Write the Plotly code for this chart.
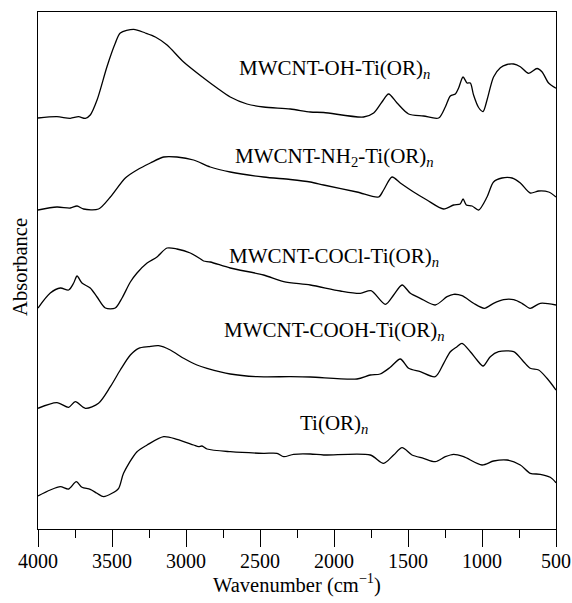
import plotly.graph_objects as go

# ---- data (wavenumber in cm^-1, absorbance in arbitrary stacked units) ----
oh_wn = [4000, 3872, 3782, 3726, 3680, 3647, 3601, 3534, 3478, 3444, 3354, 3275, 3207, 3128,
         3016, 2881, 2790, 2701, 2588, 2476, 2295, 2160, 2070, 1800, 1732, 1676, 1631, 1574,
         1496, 1395, 1293, 1248, 1214, 1180, 1158, 1128, 1101, 1079, 1057, 1023, 993, 966,
         922, 876, 831, 786, 741, 685, 628, 595, 550, 500]
oh_abs = [4.11, 4.123, 4.107, 4.123, 4.107, 4.14, 4.29, 4.623, 4.857, 4.96, 4.997, 4.96, 4.92, 4.84,
          4.67, 4.51, 4.41, 4.32, 4.25, 4.22, 4.20, 4.17, 4.165, 4.12, 4.16, 4.27, 4.35, 4.26,
          4.15, 4.13, 4.11, 4.22, 4.33, 4.35, 4.41, 4.52, 4.46, 4.46, 4.34, 4.215, 4.175, 4.29,
          4.52, 4.613, 4.645, 4.65, 4.623, 4.557, 4.605, 4.573, 4.46, 4.407]

nh2_wn = [4000, 3872, 3782, 3736, 3692, 3591, 3511, 3410, 3331, 3241, 3151, 3061, 2949, 2836,
          2701, 2476, 2295, 2160, 2070, 1845, 1699, 1665, 1608, 1552, 1462, 1372, 1259, 1192,
          1147, 1128, 1106, 1067, 1023, 966, 922, 865, 797, 741, 674, 617, 550, 500]
nh2_abs = [3.19, 3.22, 3.21, 3.23, 3.20, 3.20, 3.32, 3.51, 3.59, 3.66, 3.72, 3.72, 3.69, 3.62,
           3.57, 3.52, 3.495, 3.47, 3.44, 3.37, 3.32, 3.39, 3.52, 3.46, 3.37, 3.29, 3.20, 3.24,
           3.25, 3.30, 3.24, 3.23, 3.19, 3.32, 3.47, 3.51, 3.51, 3.46, 3.36, 3.38, 3.37, 3.32]

cocl_wn = [4000, 3917, 3849, 3793, 3759, 3736, 3703, 3647, 3601, 3545, 3478, 3432, 3376, 3331,
           3263, 3196, 3128, 3061, 2971, 2902, 2881, 2836, 2701, 2476, 2340, 2160, 1957, 1822,
           1750, 1653, 1597, 1540, 1484, 1417, 1316, 1236, 1192, 1135, 1057, 984, 922, 854,
           786, 730, 675, 606, 500]
cocl_abs = [2.21, 2.36, 2.41, 2.39, 2.46, 2.53, 2.46, 2.41, 2.32, 2.21, 2.21, 2.31, 2.47, 2.56,
            2.66, 2.72, 2.81, 2.80, 2.76, 2.70, 2.68, 2.67, 2.61, 2.54, 2.473, 2.44, 2.38, 2.357,
            2.383, 2.247, 2.34, 2.44, 2.357, 2.307, 2.24, 2.323, 2.347, 2.333, 2.257, 2.207, 2.257, 2.293,
            2.293, 2.257, 2.207, 2.257, 2.24]

cooh_wn = [4000, 3872, 3793, 3748, 3680, 3591, 3511, 3444, 3376, 3320, 3253, 3185, 3106, 3016,
           2926, 2858, 2701, 2520, 2295, 2160, 1845, 1755, 1688, 1620, 1552, 1496, 1417, 1316,
           1259, 1214, 1169, 1135, 1079, 1034, 993, 944, 888, 786, 719, 674, 617, 561, 500]
cooh_abs = [1.207, 1.263, 1.217, 1.273, 1.207, 1.257, 1.423, 1.59, 1.74, 1.807, 1.823, 1.833, 1.79, 1.707,
            1.64, 1.607, 1.55, 1.523, 1.523, 1.52, 1.50, 1.54, 1.55, 1.617, 1.70, 1.607, 1.573, 1.523,
            1.657, 1.773, 1.823, 1.857, 1.773, 1.69, 1.63, 1.723, 1.773, 1.773, 1.673, 1.607, 1.59, 1.507, 1.39]

ti_wn = [4000, 3917, 3849, 3793, 3741, 3703, 3647, 3601, 3557, 3500, 3455, 3422, 3331, 3263,
         3151, 3061, 2949, 2915, 2892, 2858, 2701, 2476, 2385, 2340, 2273, 2160, 2070, 1755,
         1665, 1597, 1540, 1473, 1395, 1316, 1248, 1192, 1124, 1000, 922, 831, 741, 674,
         606, 539, 500]
ti_abs = [0.33, 0.39, 0.423, 0.40, 0.473, 0.417, 0.397, 0.357, 0.323, 0.357, 0.407, 0.557, 0.773, 0.84,
          0.923, 0.897, 0.84, 0.823, 0.83, 0.80, 0.773, 0.757, 0.757, 0.723, 0.747, 0.75, 0.74, 0.74,
          0.657, 0.74, 0.813, 0.74, 0.707, 0.673, 0.723, 0.747, 0.723, 0.64, 0.68, 0.69, 0.64, 0.557,
          0.547, 0.517, 0.463]

labels = ["MWCNT-OH-Ti(OR)<sub><i>n</i></sub>",
          "MWCNT-NH<sub>2</sub>-Ti(OR)<sub><i>n</i></sub>",
          "MWCNT-COCl-Ti(OR)<sub><i>n</i></sub>",
          "MWCNT-COOH-Ti(OR)<sub><i>n</i></sub>",
          "Ti(OR)<sub><i>n</i></sub>"]
label_wn = [2000, 2000, 2000, 2000, 2000]
label_abs = [4.60, 3.72, 2.72, 1.98, 1.05]

x_ticks = [4000, 3500, 3000, 2500, 2000, 1500, 1000, 500]
x_title = "Wavenumber (cm<sup>−1</sup>)"
y_title = "Absorbance"

FONT = "Liberation Serif, Times New Roman, serif"

fig = go.Figure()
for wn, ab in [(oh_wn, oh_abs), (nh2_wn, nh2_abs), (cocl_wn, cocl_abs),
               (cooh_wn, cooh_abs), (ti_wn, ti_abs)]:
    fig.add_trace(go.Scatter(x=wn, y=ab, mode="lines",
                             line=dict(color="black", width=1.3, shape="spline", smoothing=0.8),
                             showlegend=False, hoverinfo="skip"))

for t, xw, ya in zip(labels, label_wn, label_abs):
    fig.add_annotation(x=xw, y=ya, text=t, showarrow=False,
                       font=dict(family=FONT, size=21, color="black"),
                       xanchor="center", yanchor="middle")

# axis titles as annotations for exact placement
fig.add_annotation(x=0.5, y=-0.105, xref="paper", yref="paper", text=x_title,
                   showarrow=False, xanchor="center", yanchor="middle",
                   font=dict(family=FONT, size=20.5, color="black"))
fig.add_annotation(x=-0.0347, y=0.507, xref="paper", yref="paper", text=y_title,
                   showarrow=False, xanchor="center", yanchor="middle", textangle=-90,
                   font=dict(family=FONT, size=20.5, color="black"))

fig.update_layout(
    width=572, height=603,
    margin=dict(l=38, r=16, t=12, b=74),
    paper_bgcolor="white", plot_bgcolor="white",
    font=dict(family=FONT, size=20, color="black"),
    xaxis=dict(range=[4000, 500], tickvals=x_ticks, ticks="outside", ticklen=17,
               tickwidth=1.3, tickcolor="black", showline=True, linecolor="black",
               linewidth=1.3, mirror=True, showgrid=False, zeroline=False,
               automargin=False, ticklabelstandoff=-3,
               tickfont=dict(family=FONT, size=20),
               minor=dict(dtick=250, ticks="outside", ticklen=8, tickwidth=1.3,
                          tickcolor="black", showgrid=False)),
    yaxis=dict(range=[0, 5.17], showticklabels=False, ticks="", showline=True,
               linecolor="black", linewidth=1.3, mirror=True, showgrid=False,
               zeroline=False, automargin=False),
)

fig.write_html("out.html")
